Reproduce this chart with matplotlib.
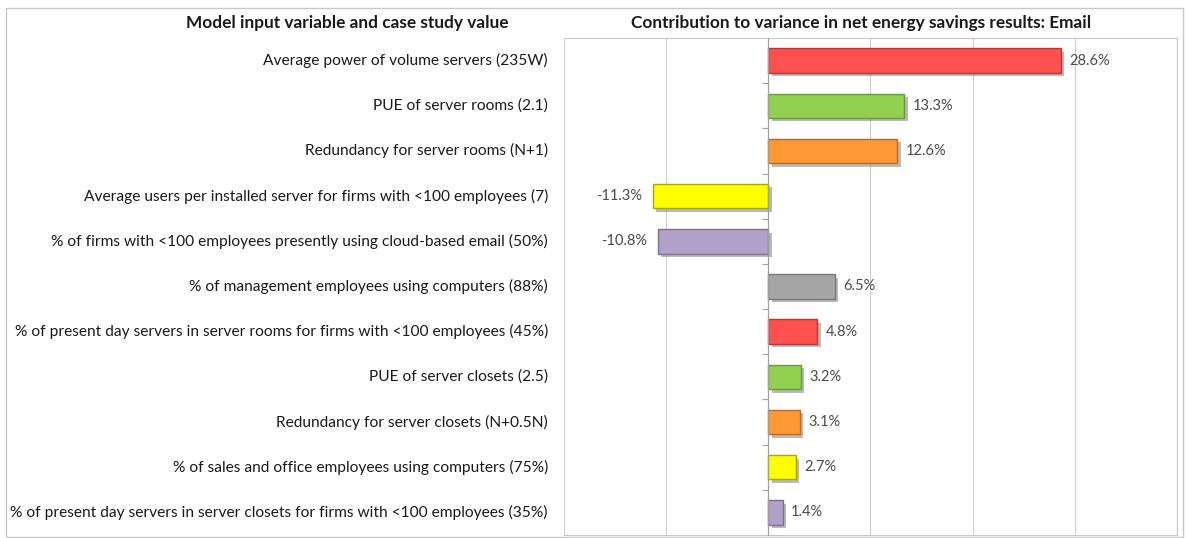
import matplotlib.pyplot as plt
import matplotlib.patheffects as pe
import matplotlib.patches as mpatches
import matplotlib.transforms as mtransforms

labels = [
    "Average power of volume servers (235W)",
    "PUE of server rooms (2.1)",
    "Redundancy for server rooms (N+1)",
    "Average users per installed server for firms with <100 employees (7)",
    "% of firms with <100 employees presently using cloud-based email (50%)",
    "% of management employees using computers (88%)",
    "% of present day servers in server rooms for firms with <100 employees (45%)",
    "PUE of server closets (2.5)",
    "Redundancy for server closets (N+0.5N)",
    "% of sales and office employees using computers (75%)",
    "% of present day servers in server closets for firms with <100 employees (35%)",
]
values = [28.6, 13.3, 12.6, -11.3, -10.8, 6.5, 4.8, 3.2, 3.1, 2.7, 1.4]
colors = ["#FF5050", "#92D050", "#FF9933", "#FFFF00", "#B1A0C7", "#A6A6A6",
          "#FF5050", "#92D050", "#FF9933", "#FFFF00", "#B1A0C7"]
edges = ["#B03A3A", "#6A9A3A", "#B86A25", "#A8A800", "#7E7090", "#777777",
         "#B03A3A", "#6A9A3A", "#B86A25", "#A8A800", "#7E7090"]

plt.rcParams["font.family"] = ["Lato", "DejaVu Sans"]

fig = plt.figure(figsize=(11.87, 5.38), dpi=100)
ax = fig.add_axes([564 / 1187, 1 - 535 / 538, (1177 - 564) / 1187, (535 - 38) / 538])

# outer frame around the whole chart
fig.patches.append(mpatches.Rectangle((6 / 1187, 1 / 538), 1177 / 1187, 1 - 9 / 538,
                                      transform=fig.transFigure, fill=False,
                                      edgecolor="#C8C8C8", linewidth=1.0))

ypos = list(range(len(labels)))
shadow = [pe.SimplePatchShadow(offset=(2.5, -2.5), shadow_rgbFace="#8C8C8C", alpha=0.6),
          pe.Normal()]
bars = ax.barh(ypos, values, height=0.54, color=colors, edgecolor=edges,
               linewidth=1.0, zorder=3)
for b in bars:
    b.set_path_effects(shadow)

ax.set_xlim(-20, 40)
ax.set_ylim(len(labels) - 0.5, -0.5)
ax.set_xticks([-20, -10, 0, 10, 20, 30, 40])
ax.grid(axis="x", color="#D0D0D0", linewidth=0.9, zorder=0)
ax.tick_params(axis="x", length=0, labelbottom=False)

ax.spines["left"].set_position(("data", 0))
ax.spines["left"].set_color("#A0A0A0")
ax.spines["left"].set_zorder(4)
ax.set_yticks([i + 0.5 for i in range(len(labels) - 1)])
ax.tick_params(axis="y", direction="out", length=4, color="#A0A0A0", labelleft=False)
for s in ["top", "right", "bottom"]:
    ax.spines[s].set_color("#C8C8C8")

trans = mtransforms.blended_transform_factory(fig.transFigure, ax.transData)
for i, lab in enumerate(labels):
    ax.text(548 / 1187, i, lab, transform=trans, ha="right", va="center",
            fontsize=11.2, color="#1A1A1A")

for i, v in enumerate(values):
    if v >= 0:
        ax.annotate(f"{v:.1f}%", (v, i), xytext=(6, 0), textcoords="offset points",
                    ha="left", va="center", fontsize=10.5, color="#4A4A4A")
    else:
        ax.annotate(f"{v:.1f}%", (v, i), xytext=(-8, 0), textcoords="offset points",
                    ha="right", va="center", fontsize=10.5, color="#4A4A4A")

fig.text(347 / 1187, 1 - 23 / 538, "Model input variable and case study value",
         ha="center", va="center", fontsize=12.4, fontweight="bold", color="#1A1A1A")
fig.text(861 / 1187, 1 - 23 / 538, "Contribution to variance in net energy savings results: Email",
         ha="center", va="center", fontsize=12.4, fontweight="bold", color="#1A1A1A")

fig.savefig("out.png", dpi=100, facecolor="white")
